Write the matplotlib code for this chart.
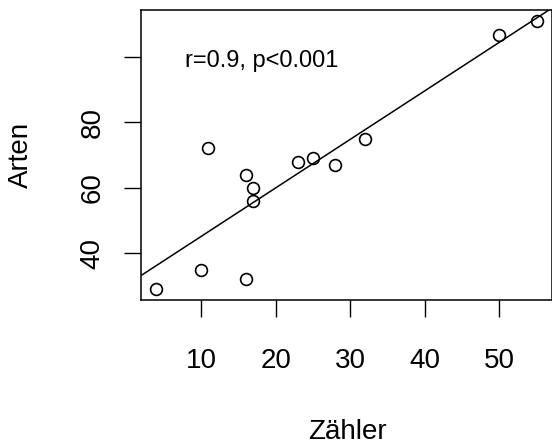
import matplotlib

matplotlib.use("Agg")
import matplotlib.pyplot as plt
import numpy as np

plt.rcParams["font.family"] = ["Liberation Sans", "DejaVu Sans"]

# ── Daten ──
zaehler = [4, 10, 16, 11, 16, 17, 17, 23, 25, 28, 32, 50, 55]
arten = [29, 35, 32, 72, 64, 60, 56, 68, 69, 67, 75, 106.5, 111]
x_ticks = [10, 20, 30, 40, 50]
y_ticks = [40, 60, 80, 100]
y_ticklabels = ["40", "60", "80", ""]

W, H = 552, 448
fig = plt.figure(figsize=(W / 100, H / 100), dpi=100)
ax = fig.add_axes([141 / W, 1 - 300 / H, (W - 141) / W, 290 / H])

ax.plot(zaehler, arten, "o", mfc="none", mec="black", ms=8.5, mew=1.2)

# Regressionsgerade (wie abline(lm(...)))
b, a = np.polyfit(zaehler, arten, 1)
xr = np.ptp(zaehler) * 0.04
yr = np.ptp(arten) * 0.04
xlim = (min(zaehler) - xr, max(zaehler) + xr)
ylim = (min(arten) - yr, max(arten) + yr)
xx = np.array(xlim)
ax.plot(xx, a + b * xx, color="black", lw=1.1)
ax.set_xlim(xlim)
ax.set_ylim(ylim)

ax.text(18.1, 98.6, "r=0.9, p<0.001", fontsize=17, ha="center", va="center")

ax.set_xticks(x_ticks)
ax.set_yticks(y_ticks)
ax.set_yticklabels(y_ticklabels, rotation=90, va="center")
ax.tick_params(direction="out", length=12.2, width=1.0, labelsize=20)
ax.tick_params(axis="x", pad=22)
ax.tick_params(axis="y", pad=13.5)
for s in ax.spines.values():
    s.set_linewidth(1.1)

fig.text(347 / W, 1 - 432 / H, "Zähler", fontsize=20, ha="center", va="center")
fig.text(21 / W, 1 - 155 / H, "Arten", fontsize=20, ha="center", va="center", rotation=90)

fig.savefig("out.png", dpi=100)
